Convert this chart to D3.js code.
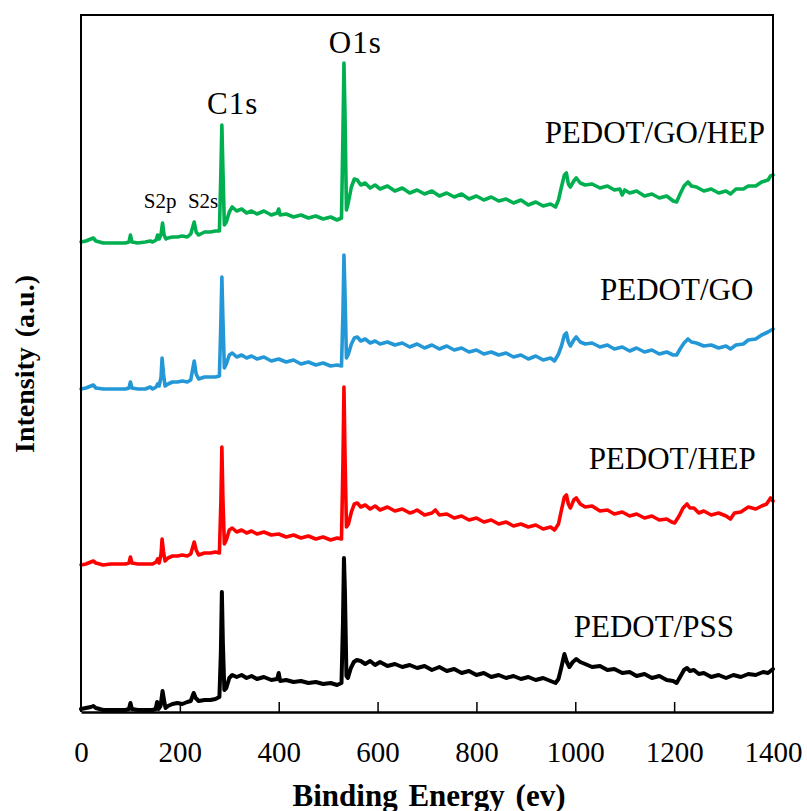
<!DOCTYPE html>
<html>
<head>
<meta charset="utf-8">
<script src="https://cdn.jsdelivr.net/npm/d3@7"></script>
<style>
  body { margin: 0; background: #fff; }
  text { font-family: "Liberation Serif", "Times New Roman", serif; fill: #000; }
</style>
</head>
<body>
<div id="chart"></div>
<script>
// XPS survey spectra, binding energy (eV) vs intensity (a.u., stacked)
const pss = [[0,3],[10,4],[20,5],[25,6],[30,4],[45,2],[60,2],[75,2],[90,2],[97,3],[100,9],[103,3],[115,2],[130,2],[145,2],[151,3],[154,10],[157,3],[161,6],[165,21],[168,12],[171,4],[176,6],[185,8],[195,9],[205,8],[215,10],[222,11],[228,19],[232,14],[238,11],[250,12],[262,12],[272,13],[280,15],[283,60],[285,120],[287,70],[290,22],[294,24],[300,34],[306,37],[315,35],[325,37],[335,34],[345,36],[356,33],[370,35],[385,32],[397,33],[400,39],[403,31],[415,32],[430,30],[445,31],[460,29],[475,30],[490,28],[505,29],[518,27],[527,29],[530,90],[532,154],[534,120],[537,36],[540,34],[546,44],[552,50],[558,52],[566,51],[575,48],[585,51],[595,47],[605,50],[620,46],[635,48],[650,45],[665,47],[680,44],[695,46],[710,42],[725,45],[740,41],[755,43],[770,39],[785,41],[800,37],[815,39],[830,35],[845,37],[860,34],[875,36],[890,33],[905,35],[920,32],[935,34],[950,31],[960,29],[966,33],[972,45],[978,58],[983,50],[988,45],[995,50],[1002,53],[1010,50],[1020,48],[1034,45],[1050,46],[1065,42],[1079,43],[1095,39],[1110,40],[1124,36],[1140,38],[1155,34],[1170,36],[1185,32],[1198,31],[1205,29],[1212,35],[1220,42],[1226,44],[1232,41],[1240,42],[1250,38],[1260,39],[1275,35],[1290,37],[1305,34],[1320,37],[1335,35],[1350,38],[1365,37],[1380,40],[1390,39],[1400,43]]

const hep = [[0,147],[10,148],[20,150],[25,151],[30,149],[45,147],[60,148],[75,148],[90,148],[97,149],[100,155],[103,149],[115,148],[130,148],[145,148],[152,150],[155,153],[158,149],[162,158],[164,173],[167,160],[170,151],[176,154],[185,156],[195,156],[205,157],[215,156],[222,158],[229,170],[233,162],[238,157],[250,159],[262,159],[272,160],[280,159],[283,210],[285,265],[287,215],[290,168],[294,172],[300,182],[306,184],[315,180],[325,182],[335,179],[345,181],[356,178],[370,180],[385,177],[400,178],[415,175],[430,177],[445,174],[460,176],[475,173],[490,175],[505,172],[518,174],[527,173],[530,250],[532,325],[534,260],[537,185],[541,188],[547,200],[553,208],[559,209],[566,205],[575,207],[585,203],[595,206],[605,202],[620,205],[635,201],[650,203],[665,199],[672,200],[680,202],[695,197],[710,199],[717,202],[725,197],[740,198],[755,194],[770,196],[785,192],[800,194],[815,190],[830,192],[845,188],[860,190],[875,186],[890,188],[905,185],[920,187],[935,183],[950,185],[958,182],[966,188],[972,202],[978,215],[982,217],[986,208],[990,204],[997,212],[1002,214],[1010,208],[1020,205],[1034,206],[1050,201],[1065,202],[1079,198],[1095,200],[1110,196],[1124,198],[1140,194],[1155,196],[1170,192],[1185,193],[1195,190],[1201,189],[1210,196],[1218,204],[1226,208],[1232,204],[1240,204],[1250,199],[1260,201],[1275,197],[1290,199],[1305,196],[1314,193],[1322,199],[1335,200],[1350,205],[1365,203],[1377,206],[1387,208],[1395,214],[1400,211]]

const go = [[0,323],[10,324],[20,326],[25,327],[30,324],[45,323],[60,323],[75,323],[90,323],[97,324],[100,330],[103,324],[115,323],[130,323],[140,325],[145,323],[152,325],[155,328],[158,326],[162,335],[164,354],[167,338],[170,326],[176,328],[185,330],[195,330],[205,331],[215,330],[222,332],[229,351],[233,338],[238,333],[250,335],[262,335],[272,335],[280,336],[283,390],[285,435],[287,395],[290,344],[294,348],[300,357],[306,359],[315,355],[325,357],[335,354],[345,356],[356,353],[370,355],[385,351],[400,353],[415,350],[430,352],[445,348],[460,350],[475,347],[490,349],[505,346],[518,347],[527,346],[530,400],[532,457],[534,420],[537,354],[541,358],[547,368],[553,374],[559,375],[566,371],[575,373],[585,369],[595,371],[605,368],[620,370],[635,367],[650,369],[665,365],[680,368],[695,364],[710,367],[725,363],[740,366],[755,362],[770,364],[785,360],[800,362],[815,358],[830,360],[845,357],[860,359],[875,355],[890,357],[905,353],[920,356],[935,352],[950,354],[958,351],[966,358],[972,366],[978,377],[982,379],[986,370],[990,366],[997,372],[1002,375],[1010,370],[1020,368],[1034,369],[1050,365],[1065,367],[1079,363],[1095,365],[1110,361],[1124,364],[1140,360],[1155,362],[1170,358],[1185,360],[1198,357],[1205,357],[1212,363],[1220,369],[1228,373],[1235,370],[1245,369],[1260,366],[1275,367],[1290,364],[1305,366],[1314,363],[1325,367],[1340,368],[1350,372],[1365,373],[1377,377],[1390,380],[1400,383]]

const goHep = [[0,470],[10,471],[20,473],[25,474],[30,471],[45,469],[60,469],[75,469],[90,469],[97,470],[100,477],[103,470],[115,469],[130,470],[140,471],[145,470],[152,472],[155,477],[158,473],[162,478],[165,489],[168,477],[172,473],[176,474],[185,475],[195,475],[205,476],[215,475],[222,478],[229,490],[233,480],[238,477],[250,480],[262,480],[272,481],[280,481],[283,540],[285,587],[287,545],[290,487],[294,490],[300,500],[306,505],[315,501],[325,503],[335,499],[345,501],[356,498],[370,501],[385,497],[397,499],[400,503],[403,497],[415,498],[430,495],[445,497],[460,494],[475,496],[490,493],[505,495],[518,492],[527,494],[530,580],[532,649],[534,600],[537,502],[541,510],[547,525],[553,533],[559,532],[566,527],[575,529],[585,524],[595,527],[605,523],[620,526],[635,521],[650,524],[665,519],[680,522],[695,518],[710,521],[725,516],[740,519],[755,515],[770,518],[785,513],[800,516],[815,512],[830,515],[845,511],[860,513],[875,509],[890,512],[905,507],[920,510],[935,506],[950,508],[960,505],[966,512],[972,525],[978,537],[982,539],[986,528],[990,525],[997,531],[1002,534],[1010,529],[1020,527],[1034,528],[1050,524],[1065,526],[1079,522],[1090,523],[1095,517],[1100,522],[1110,519],[1124,521],[1140,516],[1155,518],[1170,514],[1185,516],[1198,511],[1205,510],[1212,518],[1220,526],[1228,530],[1235,526],[1245,525],[1260,521],[1275,523],[1290,519],[1305,521],[1314,518],[1325,523],[1340,523],[1350,526],[1365,526],[1377,530],[1390,532],[1395,536],[1400,537]]

const seriesNames = ['PEDOT/PSS', 'PEDOT/HEP', 'PEDOT/GO', 'PEDOT/GO/HEP']
const seriesData = [pss, hep, go, goHep]
const seriesColors = ['#000000', '#ff0000', '#2498d6', '#00b050']
const xTicks = [0, 200, 400, 600, 800, 1000, 1200, 1400]

// [text, eV, intensity] anchors (text centre) for the peak labels
const peakLabels = [['S2p', 160, 504], ['S2s', 247, 504], ['C1s', 307, 598], ['O1s', 555, 659]]
// [eV, intensity] anchors (text start) for the series names
const nameAnchors = [[997, 75], [1027, 243], [1050, 412], [938, 569]]

const width = 807
const height = 811
const plotBox = {left: 81, right: 773, top: 15, bottom: 712}

const svg = d3.select('#chart').append('svg')
    .attr('width', width)
    .attr('height', height)

const x = d3.scaleLinear().domain([0, 1400]).range([plotBox.left, plotBox.right])
const y = d3.scaleLinear().domain([0, 697]).range([plotBox.bottom, plotBox.top])

const line = d3.line()
    .x(d => x(d[0]))
    .y(d => y(d[1]))

svg.append('g')
    .selectAll('path')
    .data(seriesData)
    .enter().append('path')
    .attr('d', line)
    .attr('fill', 'none')
    .attr('stroke', (d, i) => seriesColors[i])
    .attr('stroke-width', (d, i) => i === 0 ? 4 : 3.6)
    .attr('stroke-linejoin', 'round')
    .attr('stroke-linecap', 'round')

// frame: left, top, right
svg.append('path')
    .attr('d', `M${plotBox.left},${plotBox.bottom}V${plotBox.top}H${plotBox.right}V${plotBox.bottom}`)
    .attr('fill', 'none')
    .attr('stroke', '#000')
    .attr('stroke-width', 2)

// bottom axis with inward ticks
const xAxis = svg.append('g')
    .attr('transform', `translate(0, ${plotBox.bottom})`)
    .call(d3.axisBottom(x).tickValues(xTicks).tickFormat(d3.format('d'))
        .tickSizeInner(-10).tickSizeOuter(0).tickPadding(0))
xAxis.select('.domain').attr('stroke-width', 2.5)
xAxis.selectAll('.tick line')
    .attr('stroke-width', 1.5)
    .attr('display', d => (d === 0 || d === 1400) ? 'none' : null)
xAxis.selectAll('.tick text')
    .attr('y', 50)
    .attr('dy', null)
    .style('font-family', '"Liberation Serif", "Times New Roman", serif')
    .style('font-size', '29px')

svg.append('text')
    .attr('x', 429)
    .attr('y', 806)
    .attr('text-anchor', 'middle')
    .style('font-size', '31px')
    .style('font-weight', 'bold')
    .style('word-spacing', '3px')
    .text('Binding Energy (ev)')

svg.append('text')
    .attr('transform', 'translate(34, 364) rotate(-90)')
    .attr('text-anchor', 'middle')
    .style('font-size', '28px')
    .style('font-weight', 'bold')
    .style('word-spacing', '3px')
    .text('Intensity (a.u.)')

svg.append('g')
    .selectAll('text')
    .data(peakLabels)
    .enter().append('text')
    .attr('x', d => x(d[1]))
    .attr('y', d => y(d[2]))
    .attr('text-anchor', 'middle')
    .style('font-size', d => d[0].startsWith('S') ? '21px' : '31px')
    .style('letter-spacing', d => d[0].startsWith('S') ? null : '1px')
    .text(d => d[0])

svg.append('g')
    .selectAll('text')
    .data(nameAnchors)
    .enter().append('text')
    .attr('x', d => x(d[0]))
    .attr('y', d => y(d[1]))
    .style('font-size', '31px')
    .text((d, i) => seriesNames[i])
</script>
</body>
</html>
